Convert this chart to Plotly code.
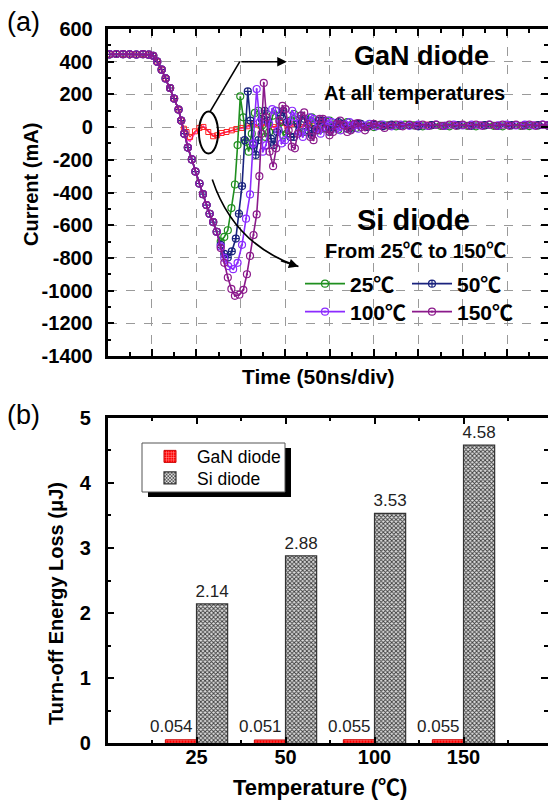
import plotly.graph_objects as go

W, H = 548, 800
def px(x): return x / W
def py(y): return 1 - y / H

FONT = "Arial, 'Liberation Sans', 'Noto Sans CJK SC', sans-serif"

# ---------------- (a) waveforms : time in divisions (50 ns/div), current in mA
t_flat = [0.05, 0.2, 0.35, 0.5, 0.65, 0.8, 0.93]
i_flat = [445, 447, 446, 445, 444, 446, 443]
t_edge = [1.03, 1.12, 1.22, 1.31, 1.41, 1.5, 1.6]
i_edge = [436, 400, 351, 298, 239, 175, 107]
t_si_edge = [1.66, 1.73, 1.81, 1.9, 1.98, 2.07, 2.15, 2.23, 2.3, 2.38, 2.46]
i_si_edge = [40, -40, -125, -198, -272, -345, -410, -477, -530, -581, -640]

t_si25 = [2.55, 2.63, 2.71, 2.79, 2.87, 2.93, 2.99, 3.06, 3.12, 3.18, 3.25, 3.32, 3.4, 3.48, 3.56,
          3.64, 3.72, 3.8, 3.88, 3.96, 4.04, 4.12, 4.2, 4.28, 4.36, 4.44, 4.52, 4.6, 4.68, 4.76,
          4.84, 4.92, 5.0, 5.1, 5.2, 5.3, 5.4, 5.5, 5.6, 5.7, 5.85, 6.0, 6.15, 6.3, 6.5, 6.7, 6.9,
          7.1, 7.3, 7.5, 7.7, 7.9, 8.1, 8.3, 8.5, 8.7, 8.9, 9.1, 9.3, 9.5, 9.7, 9.92]
i_si25 = [-700, -672, -631, -495, -351, -110, 188, 60, -90, -150, -40, 87, 100, 10, -60,
          -30, 70, 100, 30, -50, -40, 40, 80, 40, -30, -30, 30, 60, 20, -20,
          -10, 35, 40, 0, -15, 20, 30, 0, -5, 20, 10, 0, 15, 10, 5, 15, 10,
          5, 12, 8, 5, 10, 8, 5, 10, 8, 5, 10, 8, 6, 10, 8]

t_si50 = [2.55, 2.63, 2.71, 2.8, 2.89, 2.96, 3.03, 3.09, 3.16, 3.22, 3.28, 3.34, 3.4, 3.47, 3.54,
          3.61, 3.68, 3.75, 3.82, 3.89, 3.96, 4.04, 4.12, 4.2, 4.28, 4.36, 4.44, 4.52, 4.6, 4.68,
          4.76, 4.84, 4.92, 5.0, 5.1, 5.2, 5.3, 5.4, 5.5, 5.6, 5.7, 5.85, 6.0, 6.2, 6.4, 6.6, 6.8,
          7.0, 7.3, 7.6, 7.9, 8.2, 8.5, 8.8, 9.1, 9.4, 9.7, 9.92]
i_si50 = [-720, -775, -798, -760, -682, -530, -361, -80, 218, 40, -110, -170, -80, 50, 100,
          40, -70, -110, -30, 70, 100, 30, -60, -60, 20, 70, 50, -20, -50, -10,
          40, 40, 0, -30, 0, 30, 20, -10, -10, 20, 20, 0, 15, 5, 15, 8, 12,
          5, 12, 8, 12, 8, 12, 8, 12, 10, 12, 10]

t_si100 = [2.55, 2.63, 2.72, 2.83, 2.93, 3.03, 3.12, 3.21, 3.28, 3.36, 3.43, 3.5, 3.57, 3.64, 3.71,
           3.78, 3.85, 3.92, 4.0, 4.08, 4.16, 4.24, 4.32, 4.4, 4.48, 4.56, 4.64, 4.72, 4.8, 4.88,
           4.96, 5.05, 5.15, 5.25, 5.35, 5.45, 5.55, 5.65, 5.75, 5.9, 6.05, 6.2, 6.4, 6.6, 6.8,
           7.0, 7.2, 7.4, 7.6, 7.8, 8.0, 8.2, 8.4, 8.6, 8.8, 9.0, 9.2, 9.4, 9.6, 9.8, 9.92]
i_si100 = [-730, -800, -850, -869, -830, -720, -560, -412, -100, 233, 30, -150, -110, 20, 110,
           100, -20, -100, -80, 30, 100, 60, -30, -60, 0, 60, 50, -10, -40, 0,
           40, 30, -10, -20, 15, 30, 10, -10, 10, 20, 5, 15, 5, 15, 8,
           15, 8, 15, 8, 15, 10, 15, 10, 15, 10, 15, 10, 15, 10, 15, 12]

t_si150 = [2.55, 2.63, 2.71, 2.79, 2.87, 2.97, 3.06, 3.14, 3.21, 3.29, 3.36, 3.42, 3.47, 3.52, 3.58,
           3.65, 3.73, 3.8, 3.87, 3.94, 4.01, 4.08, 4.15, 4.22, 4.29, 4.36, 4.43, 4.5, 4.57, 4.64,
           4.71, 4.78, 4.85, 4.92, 5.0, 5.08, 5.16, 5.24, 5.32, 5.4, 5.48, 5.56, 5.64, 5.72, 5.8,
           5.9, 6.0, 6.12, 6.24, 6.36, 6.5, 6.65, 6.8, 6.95, 7.1, 7.25, 7.4, 7.55, 7.7, 7.85,
           8.0, 8.15, 8.3, 8.45, 8.6, 8.75, 8.9, 9.05, 9.2, 9.35, 9.5, 9.65, 9.8, 9.92]
i_si150 = [-740, -830, -920, -990, -1032, -1025, -995, -900, -788, -660, -534, -300, -40, 270, 60,
           -150, -239, -130, 40, 130, 110, -20, -120, -130, -40, 70, 90, 20, -60, -80,
           -20, 50, 50, -10, -50, -30, 20, 40, 10, -30, -20, 20, 25, 0, -20,
           5, 20, 10, -5, 10, 15, 5, 15, 8, 15, 8, 15, 8, 15, 8,
           15, 8, 15, 8, 15, 8, 15, 8, 15, 8, 15, 8, 15, 10]

t_gan = [1.66, 1.72, 1.78, 1.86, 1.97, 2.07, 2.16, 2.27, 2.38, 2.47, 2.57, 2.68, 2.8, 2.9, 3.02,
         3.15, 3.3, 3.45, 3.6, 3.75, 3.9, 4.05, 4.2, 4.35, 4.5, 4.65, 4.8, 5.0, 5.2, 5.4, 5.6,
         5.8, 6.0, 6.3, 6.6, 6.9, 7.2, 7.5, 7.8, 8.1, 8.4, 8.7, 9.0, 9.3, 9.6, 9.92]
i_gan_a = [40, -10, -30, -60, -26, -5, 1, -30, -56, -50, -36, -30, -20, -12, -5,
           5, 20, 5, 25, 0, 25, 5, 20, 0, 25, 5, 20, 5, 20, 5, 18,
           8, 15, 10, 15, 10, 15, 10, 15, 10, 15, 10, 15, 10, 15, 12]
i_gan_b = [35, -40, -75, -87, -35, -10, 5, -25, -52, -55, -40, -30, -22, -15, -8,
           0, 15, 0, 20, -5, 20, 0, 15, -5, 20, 0, 15, 0, 15, 0, 15,
           5, 12, 8, 12, 8, 12, 8, 12, 8, 12, 8, 12, 8, 12, 10]

si_labels = ["25℃", "50℃", "100℃", "150℃"]
si_colors = ["#1f8f1f", "#1a237e", "#8c2bff", "#8b1a8b"]
si_symbols = ["circle-open", "circle-cross-open", "circle-open-dot", "circle-open-dot"]
si_legends = ["legend", "legend2", "legend3", "legend4"]

y_ticks = [600, 400, 200, 0, -200, -400, -600, -800, -1000, -1200, -1400]
y_ticklabels = ["600", "400", "200", "0", "-200", "-400", "-600", "-800", "-1000", "-1200", "-1400"]

# ---------------- (b) turn-off energy loss (µJ)
temps = ["25", "50", "100", "150"]
gan_loss = [0.054, 0.051, 0.055, 0.055]
si_loss = [2.14, 2.88, 3.53, 4.58]

fig = go.Figure()

fig.add_trace(go.Scatter(x=t_flat + t_edge + t_gan, y=i_flat + i_edge + i_gan_b,
                         mode="lines", line=dict(color="#ff33cc", width=1.5),
                         showlegend=False, hoverinfo="skip"))
fig.add_trace(go.Scatter(x=t_flat + t_edge + t_gan, y=i_flat + i_edge + i_gan_a,
                         mode="lines+markers", line=dict(color="#ff2020", width=1.2),
                         marker=dict(symbol="square-open", size=5, color="#ff2020"),
                         showlegend=False, hoverinfo="skip"))

si_t = [t_si25, t_si50, t_si100, t_si150]
si_i = [i_si25, i_si50, i_si100, i_si150]
for k in range(4):
    fig.add_trace(go.Scatter(
        x=t_flat + t_edge + t_si_edge + si_t[k],
        y=i_flat + i_edge + i_si_edge + si_i[k],
        mode="lines+markers", name=si_labels[k], legend=si_legends[k],
        line=dict(color=si_colors[k], width=1.6),
        marker=dict(symbol=si_symbols[k], size=7, color=si_colors[k], line=dict(width=1.2)),
        hoverinfo="skip"))

fig.add_trace(go.Scatter(x=[0], y=[0], xaxis="x", yaxis="y3", mode="markers",
                         marker=dict(opacity=0), showlegend=False, hoverinfo="skip"))
fig.add_trace(go.Scatter(x=[0], y=[0], xaxis="x2", yaxis="y4", mode="markers",
                         marker=dict(opacity=0), showlegend=False, hoverinfo="skip"))

idx = list(range(len(temps)))
fig.add_trace(go.Bar(
    x=idx, y=gan_loss, width=0.35, offset=-0.35, name="GaN diode", legend="legend5",
    xaxis="x2", yaxis="y2",
    marker=dict(color="#ff0000", line=dict(color="#cc0000", width=1),
                pattern=dict(shape="+", fgcolor="#ffb0b0", bgcolor="#ff0000", size=3, solidity=0.3)),
    hoverinfo="skip"))
fig.add_trace(go.Bar(
    x=idx, y=si_loss, width=0.35, offset=0, name="Si diode", legend="legend6",
    xaxis="x2", yaxis="y2",
    marker=dict(color="#777777", line=dict(color="#333333", width=1.2),
                pattern=dict(shape="x", fgcolor="#3a3a3a", bgcolor="#e0e0e0", size=3, solidity=0.5)),
    text=[f"{v:.2f}" for v in si_loss], textposition="outside", cliponaxis=False,
    constraintext="none",
    textfont=dict(family=FONT, size=17, color="#222"), hoverinfo="skip"))

xdom = [px(107.5), 1.0]
top_dom = [py(356), py(29)]
bot_dom = [py(743.3), py(417.7)]
tick_font = dict(family=FONT, size=20, color="black", weight="bold")
axis_common = dict(showline=True, linecolor="black", linewidth=2.5, ticks="inside",
                   tickcolor="black", tickwidth=2, ticklen=7, zeroline=False, automargin=False)
minor_ticks = dict(ticks="inside", ticklen=4, tickwidth=2, tickcolor="black", showgrid=False)
leg_font = dict(family=FONT, size=21, weight="bold")
leg_common = dict(xanchor="left", yanchor="middle", bgcolor="rgba(0,0,0,0)", font=leg_font, itemwidth=40)
leg_b = dict(xanchor="left", yanchor="middle", bgcolor="rgba(0,0,0,0)",
             font=dict(family=FONT, size=17.5), itemwidth=44)

fig.update_layout(
    template="none",
    width=W, height=H, margin=dict(l=0, r=0, t=0, b=0, pad=0, autoexpand=False),
    paper_bgcolor="white", plot_bgcolor="white", barmode="overlay",
    font=dict(family=FONT, color="black"),
    xaxis=dict(domain=xdom, anchor="y", range=[0, (548 - 107.5) / 44.4], tick0=0, dtick=1,
               showticklabels=False, mirror="ticks", showgrid=True, gridcolor="#9a9a9a",
               griddash="dash", gridwidth=1,
               minor=dict(tick0=0.5, dtick=1, **minor_ticks), **axis_common),
    yaxis=dict(domain=top_dom, anchor="x", range=[-1400, 600], tickmode="array",
               tickvals=y_ticks, ticktext=y_ticklabels,
               tickfont=tick_font, showgrid=True, gridcolor="#9a9a9a", griddash="dash",
               gridwidth=1, ticklabelstandoff=8,
               minor=dict(tickmode="linear", tick0=100, dtick=200, **minor_ticks), **axis_common),
    yaxis3=dict(overlaying="y", anchor="x", side="right", range=[-1400, 600], tick0=0, dtick=200,
                showticklabels=False, showgrid=False, showline=False, zeroline=False, automargin=False,
                ticks="inside", tickcolor="black", tickwidth=2, ticklen=7,
                minor=dict(dtick=100, **minor_ticks)),
    xaxis2=dict(domain=xdom, anchor="y2", range=[-1, -1 + (548 - 107.5) / 89],
                tickmode="array", tickvals=idx, ticktext=temps,
                tickfont=dict(family=FONT, size=20, color="black", weight="bold"),
                mirror="ticks", showgrid=False, ticklabelstandoff=-6,
                minor=dict(tickmode="linear", tick0=0.5, dtick=1, **minor_ticks), **axis_common),
    yaxis2=dict(domain=bot_dom, anchor="x2", range=[0, 5], tick0=0, dtick=1,
                tickfont=tick_font, showgrid=False, ticklabelstandoff=10,
                minor=dict(dtick=0.5, **minor_ticks), **axis_common),
    yaxis4=dict(overlaying="y2", anchor="x2", side="right", range=[0, 5], tick0=0, dtick=1,
                showticklabels=False, showgrid=False, showline=False, zeroline=False, automargin=False,
                ticks="inside", tickcolor="black", tickwidth=2, ticklen=7,
                minor=dict(dtick=0.5, **minor_ticks)),
    legend=dict(x=px(300), y=py(284), **leg_common),
    legend2=dict(x=px(407), y=py(284), **leg_common),
    legend3=dict(x=px(300), y=py(312), **leg_common),
    legend4=dict(x=px(407), y=py(312), **leg_common),
    legend5=dict(x=px(143), y=py(456.5), **leg_b),
    legend6=dict(x=px(143), y=py(478), **leg_b),
)

shapes = [
    # legend frame of panel (b) with its drop shadow
    dict(type="rect", xref="paper", yref="paper", x0=px(148), x1=px(291), y0=py(497), y1=py(448),
         fillcolor="black", line=dict(width=0), layer="below"),
    dict(type="rect", xref="paper", yref="paper", x0=px(142), x1=px(285), y0=py(492), y1=py(443),
         fillcolor="white", line=dict(color="#555", width=1), layer="below"),
    dict(type="circle", xref="x", yref="y", x0=2.06, x1=2.49, y0=-162, y1=95,
         line=dict(color="black", width=2)),
    dict(type="line", xref="x", yref="y", x0=2.31, y0=95, x1=2.98, y1=400,
         line=dict(color="black", width=1.6)),
    dict(type="path", xref="x", yref="y", path="M 2.36,-320 Q 2.85,-720 4.3,-853",
         line=dict(color="black", width=1.6)),
]
fig.update_layout(shapes=shapes)

def txt(s, x, y, size, bold=True, angle=0, xanchor="center"):
    return dict(text=s, x=px(x), y=py(y), xref="paper", yref="paper", showarrow=False,
                xanchor=xanchor, yanchor="middle", textangle=angle,
                font=dict(family=FONT, size=size, color="black", weight="bold" if bold else "normal"))

annotations = [
    txt("(a)", 5, 22, 27, bold=False, xanchor="left"),
    txt("(b)", 5, 415, 27, bold=False, xanchor="left"),
    txt("GaN diode", 421, 56, 27),
    txt("At all temperatures", 414, 93, 20),
    txt("Si diode", 413, 220, 29),
    txt("From 25℃ to 150℃", 415, 251, 20),
    txt("Current (mA)", 31, 185, 20, angle=-90),
    txt("Time (50ns/div)", 318, 377, 21),
    txt("Turn-off Energy Loss (μJ)", 56, 604, 20, angle=-90),
    txt("Temperature (℃)", 320, 787, 22),
    dict(x=4.04, y=400, xref="x", yref="y", ax=-47, ay=0, text="", showarrow=True,
         arrowhead=2, arrowsize=1.2, arrowwidth=1.6, arrowcolor="black", standoff=0),
    dict(x=4.3, y=-853, xref="x", yref="y", ax=-19, ay=-6.4, text="", showarrow=True,
         arrowhead=2, arrowsize=1.2, arrowwidth=1.6, arrowcolor="black", standoff=0),
]
# GaN value labels sit to the left of the Si bar, right-aligned at the category centre
for i, v in zip(idx, gan_loss):
    annotations.append(dict(x=i, y=v, xref="x2", yref="y2", text=f"{v:.3f}", showarrow=False,
                            xanchor="right", yanchor="bottom", xshift=-2, yshift=2,
                            font=dict(family=FONT, size=17, color="#222")))
fig.update_layout(annotations=annotations)

fig.write_html("out.html", config={"displayModeBar": False},
               post_script="document.body.style.margin='0px';document.body.style.overflow='hidden';")
